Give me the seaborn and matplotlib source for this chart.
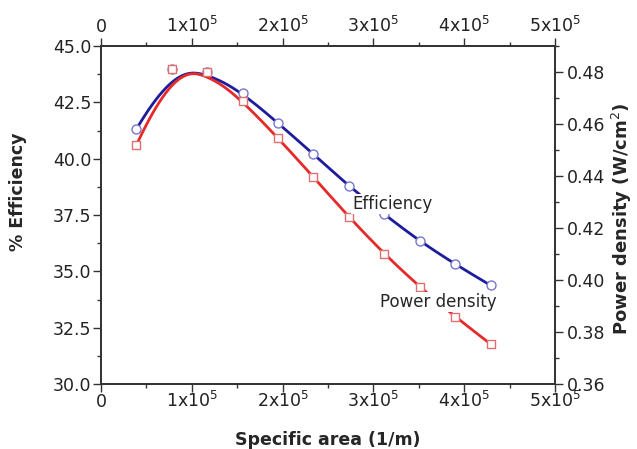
import numpy as np
import matplotlib
matplotlib.use("Agg")
import matplotlib.pyplot as plt
import seaborn as sns
import pandas as pd
from matplotlib.ticker import MultipleLocator

# ---- data ----
specific_area = [0.39e5, 0.78e5, 1.17e5, 1.56e5, 1.95e5, 2.34e5, 2.73e5, 3.12e5, 3.51e5, 3.90e5, 4.29e5]
efficiency = [41.31, 43.98, 43.84, 42.91, 41.58, 40.20, 38.78, 37.53, 36.33, 35.31, 34.38]
power_density = [0.4519, 0.4812, 0.4800, 0.4688, 0.4546, 0.4396, 0.4242, 0.4100, 0.3973, 0.3858, 0.3754]

x_ticks = [0, 1e5, 2e5, 3e5, 4e5, 5e5]
x_tick_labels = [r"$\mathregular{0}$", r"1x10$^5$", r"2x10$^5$", r"3x10$^5$", r"4x10$^5$", r"5x10$^5$"]
eff_ticks = [30.0, 32.5, 35.0, 37.5, 40.0, 42.5, 45.0]
pd_ticks = [0.36, 0.38, 0.40, 0.42, 0.44, 0.46, 0.48]


def bspline(px, py, n=400, k=3):
    """Clamped uniform B-spline using the data points as control points."""
    px = np.asarray(px, float)
    py = np.asarray(py, float)
    m = len(px)
    inner = np.arange(1, m - k)
    knots = np.concatenate([np.zeros(k + 1), inner, np.full(k + 1, m - k)]).astype(float)
    t = np.linspace(0, m - k, n)
    t[-1] -= 1e-9

    def basis(i, kk, tt):
        if kk == 0:
            return ((knots[i] <= tt) & (tt < knots[i + 1])).astype(float)
        d1 = knots[i + kk] - knots[i]
        d2 = knots[i + kk + 1] - knots[i + 1]
        a = 0 if d1 == 0 else (tt - knots[i]) / d1 * basis(i, kk - 1, tt)
        b = 0 if d2 == 0 else (knots[i + kk + 1] - tt) / d2 * basis(i + 1, kk - 1, tt)
        return a + b

    B = np.array([basis(i, k, t) for i in range(m)])
    return B.T @ px, B.T @ py


df = pd.DataFrame({"area": specific_area, "eff": efficiency, "pd": power_density})

sns.set_style("ticks")
plt.rcParams["font.family"] = ["DejaVu Sans"]
plt.rcParams["mathtext.fontset"] = "dejavusans"

fig = plt.figure(figsize=(6.37, 4.49), dpi=100)
ax = fig.add_axes([101 / 637, 1 - 384 / 449, (555 - 101) / 637, (384 - 46) / 449])
ax2 = ax.twinx()
axt = ax.twiny()

blue = "#1c1c9c"
red = "#e62a2a"

bx, by = bspline(df["area"], df["eff"])
sns.lineplot(x=bx, y=by, ax=ax, color=blue, lw=2.0, sort=False, zorder=2)
sns.scatterplot(data=df, x="area", y="eff", ax=ax, marker="o", s=42,
                facecolor="white", edgecolor="#7676d2", linewidth=1.0, zorder=3)

rx, ry = bspline(df["area"], df["pd"])
sns.lineplot(x=rx, y=ry, ax=ax2, color=red, lw=2.0, sort=False, zorder=2)
sns.scatterplot(data=df, x="area", y="pd", ax=ax2, marker="s", s=36,
                facecolor="white", edgecolor="#e07070", linewidth=1.0, zorder=3)

ax.set_xlim(0, 5e5)
axt.set_xlim(0, 5e5)
ax.set_ylim(30, 45)
ax2.set_ylim(0.36, 0.49)

label_color = "#222222"
tick_color = "#333333"
tick_fs = 12.5

for a in (ax, axt):
    a.set_xticks(x_ticks)
    a.set_xticklabels(x_tick_labels)
    a.xaxis.set_minor_locator(MultipleLocator(0.5e5))
ax.set_yticks(eff_ticks)
ax.set_yticklabels([f"{v:.1f}" for v in eff_ticks])
ax.yaxis.set_minor_locator(MultipleLocator(1.25))
ax2.set_yticks(pd_ticks)
ax2.set_yticklabels([f"{v:.2f}" for v in pd_ticks])
ax2.yaxis.set_minor_locator(MultipleLocator(0.01))

common_major = dict(length=5.5, width=1.0, labelsize=tick_fs, labelcolor=label_color, color=tick_color, direction="out")
common_minor = dict(length=3, width=1.0, color=tick_color, direction="out")
ax.tick_params(axis="x", which="major", pad=10.8, **common_major)
ax.tick_params(axis="x", which="minor", **common_minor)
ax.tick_params(axis="y", which="major", pad=1.5, **common_major)
ax.tick_params(axis="y", which="minor", **common_minor)
axt.tick_params(axis="x", which="major", pad=2.0, **common_major)
axt.tick_params(axis="x", which="minor", **common_minor)
ax2.tick_params(axis="y", which="major", pad=3.0, **common_major)
ax2.tick_params(axis="y", which="minor", **common_minor)
for lab in ax.get_xticklabels():
    lab.set_verticalalignment("baseline")

for a in (ax, ax2, axt):
    for s in a.spines.values():
        s.set_visible(True)
        s.set_color(tick_color)
        s.set_linewidth(1.1)

lab_font = dict(family=["DejaVu Sans"], weight="bold", size=12.5)
ax.set_xlabel("Specific area (1/m)", **lab_font)
ax.xaxis.set_label_coords(0.5, -0.139)
ax.set_ylabel("% Efficiency", **lab_font)
ax.yaxis.set_label_coords(-0.162, 0.57)
ax2.set_ylabel("Power density (W/cm$^2$)", family=["DejaVu Sans"], weight="bold", size=13)
ax2.yaxis.set_label_coords(1.122, 0.49)

box = dict(facecolor="white", edgecolor="none", pad=1.0)
ax2.text(2.764e5, 37.77, "Efficiency", transform=ax.transData, fontsize=12,
         va="baseline", ha="left", bbox=box, zorder=10)
ax2.text(3.073e5, 33.42, "Power density", transform=ax.transData, fontsize=12,
         va="baseline", ha="left", bbox=box, zorder=10)

fig.savefig("out.png", dpi=100)
